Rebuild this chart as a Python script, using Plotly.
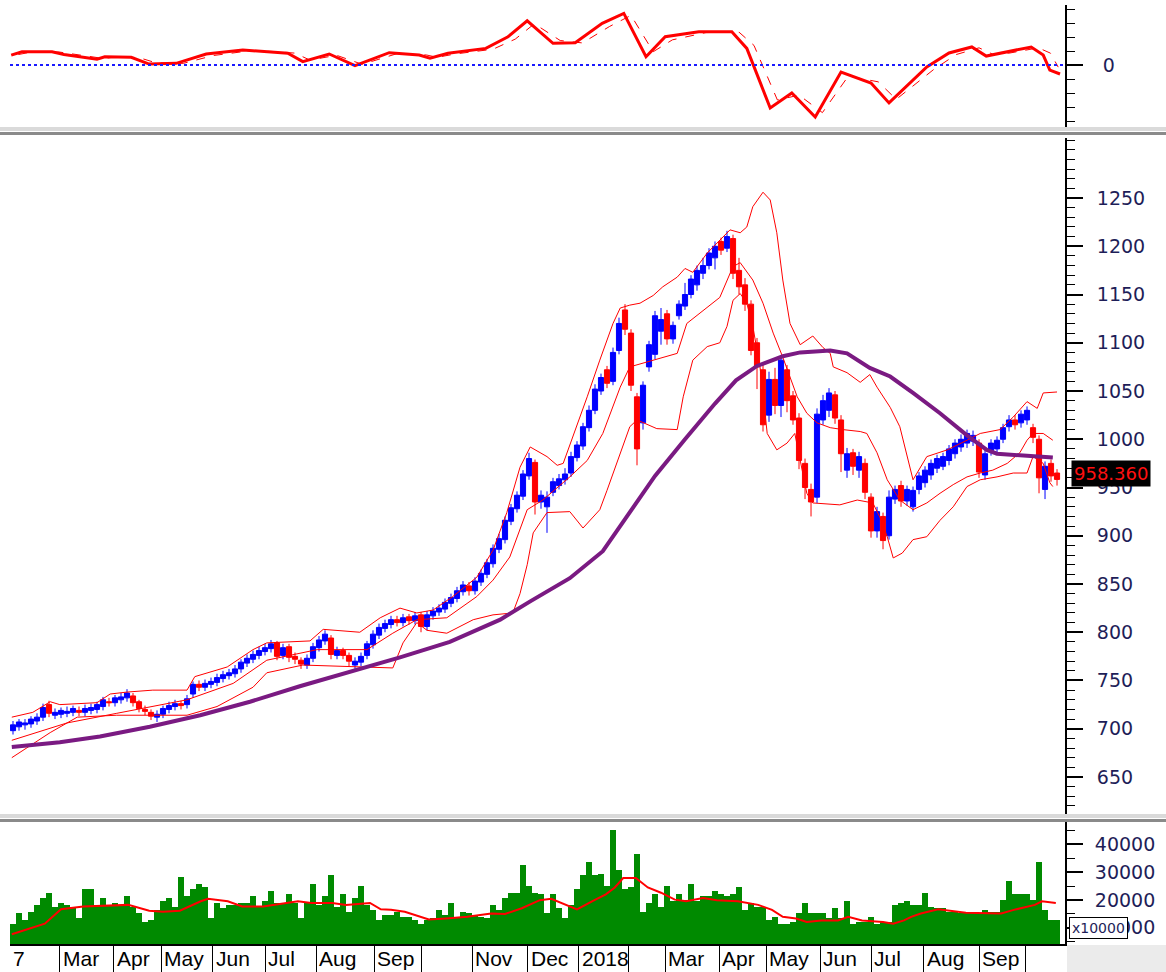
import plotly.graph_objects as go

# ---------------- data ----------------
bar_index = list(range(175))

opens = [698,702,704,705,708,712,725,714,715,716,
 717,719,717,719,720,723,728,727,730,732,
 734,728,720,717,712,715,720,723,726,725,
 736,746,743,746,748,752,755,757,762,768,
 772,776,780,783,789,776,785,775,771,766,
 773,784,791,794,776,781,776,766,769,776,
 787,797,804,808,813,810,816,812,818,806,
 817,821,824,830,835,842,848,843,852,860,
 871,886,896,915,928,941,962,976,935,930,
 945,952,958,965,981,993,1012,1030,1050,1072,
 1060,1092,1134,1110,1044,1017,1075,1088,1112,1130,
 1104,1128,1138,1150,1160,1172,1180,1188,1205,1198,
 1208,1175,1160,1140,1100,1072,1025,1062,1035,1072,
 1045,1022,975,948,940,1020,1030,1046,1020,968,
 986,968,975,940,905,920,900,938,952,936,
 930,948,955,963,970,972,978,985,992,996,
 998,996,963,988,990,1000,1013,1020,1017,1020,
 1012,1000,948,975,965]

closes = [704,707,706,710,712,722,716,717,719,718,
 721,717,721,722,725,730,727,732,733,737,
 727,721,718,713,715,721,724,726,724,731,
 746,743,747,749,753,756,758,762,769,773,
 777,781,784,788,775,784,774,772,767,773,
 785,792,798,777,781,776,770,770,775,788,
 798,805,809,813,810,815,812,817,806,818,
 822,825,831,836,843,849,843,853,861,872,
 887,897,916,929,942,964,980,935,942,940,
 956,959,964,982,994,1013,1030,1052,1064,1058,
 1090,1120,1114,1056,990,1056,1098,1128,1124,1104,
 1118,1140,1150,1166,1175,1180,1193,1200,1196,1210,
 1172,1158,1140,1092,1075,1015,1062,1035,1082,1040,
 1020,978,950,935,1026,1040,1048,1022,985,985,
 972,982,945,905,925,895,940,948,936,948,
 947,962,968,975,980,982,990,996,1000,1006,
 1004,966,985,996,999,1012,1020,1015,1026,1030,
 1002,960,972,962,958.36]

highs = [708,710,710,713,716,726,729,721,722,723,
 724,723,725,726,728,733,732,735,737,741,
 737,730,724,720,719,724,728,730,729,735,
 749,750,751,753,757,760,762,766,772,777,
 781,785,788,792,791,788,788,779,774,777,
 789,796,802,797,785,784,779,774,779,791,
 802,809,813,817,817,819,819,821,821,822,
 826,829,835,840,847,853,852,857,865,876,
 891,902,920,933,946,968,986,979,947,946,
 960,964,970,987,998,1017,1035,1057,1068,1076,
 1095,1126,1140,1114,1048,1060,1102,1133,1136,1134,
 1122,1144,1162,1170,1180,1188,1198,1205,1209,1216,
 1212,1188,1167,1144,1105,1077,1070,1074,1087,1077,
 1050,1027,980,954,1032,1046,1053,1050,1025,991,
 990,987,980,944,930,924,947,952,957,952,
 951,966,972,979,984,986,994,1000,1005,1010,
 1009,1000,989,1000,1003,1016,1025,1025,1030,1034,
 1016,1004,977,979,969]

lows = [694,698,699,701,704,708,712,710,711,712,
 713,713,713,715,716,719,723,723,726,728,
 723,717,714,709,707,711,716,719,720,721,
 732,739,739,742,744,748,751,753,758,764,
 768,772,776,779,771,772,769,767,762,762,
 769,780,787,772,772,772,765,762,765,772,
 783,793,800,804,806,806,808,808,800,802,
 813,817,820,826,831,838,838,839,848,856,
 867,882,892,911,924,937,958,922,928,903,
 941,948,953,961,977,989,1008,1026,1046,1053,
 1056,1088,1108,1050,973,1010,1070,1083,1098,1098,
 1099,1124,1134,1146,1154,1166,1176,1176,1191,1194,
 1166,1150,1133,1087,1052,1008,1018,1026,1023,1028,
 1015,969,938,920,934,1015,1023,1016,966,960,
 963,960,938,898,898,886,896,933,930,931,
 925,943,950,958,965,968,973,980,987,991,
 993,960,958,983,986,996,1008,1010,1012,1015,
 996,944,938,956,952]

volume = [11400,15100,12600,15700,18200,20700,22600,17600,18900,18200,
 17600,13300,23900,24000,18200,20700,18200,18900,18200,21400,
 17600,15100,12000,12600,16400,19500,20700,17600,28200,21400,
 23900,25700,24500,13300,18900,17000,18200,18200,18900,18900,
 21400,17600,19500,23200,18900,18900,22000,18900,13300,18900,
 25700,18200,21400,28900,17600,22000,15700,20700,25100,18200,
 16400,12600,14500,14500,15700,13900,13900,12600,11400,12600,
 13300,16400,14500,18900,13900,15700,15100,14500,13900,13300,
 18200,16400,20700,22600,22600,32600,25100,22600,
 22000,15100,22000,17000,13300,18200,23900,29000,33800,28900,
 29500,25100,45100,30700,23900,24500,36400,15700,18900,22000,
 17600,25100,19500,22000,20100,25700,19500,21400,21400,23200,
 22000,21400,22000,24500,16400,18900,17600,17600,12600,13900,
 11400,11400,12000,15100,18900,15100,15100,15100,13300,17000,
 13300,19500,11400,12000,12000,13900,11400,12000,12000,18200,
 18900,19500,18200,18200,22600,17600,17000,17000,15700,15700,
 15100,15100,15100,15100,16400,15700,15700,20100,27000,22000,
 22000,22000,20100,33800,16400,12600,12600]

# Bollinger bands (upper / middle / lower) and long moving average
ub_x = [-0.2,3.3,6.2,7.8,14,16.2,19,23.3,29,30.3,35.7,40,42.3,49.5,51.7,57.8,61.2,64.5,67.3,70,
        73.3,77.3,80,82.3,84.5,86.2,89,90.7,91.7,93.3,95.7,97.8,100,101.2,102.8,104.5,106.7,108.3,110.7,112,
        113.3,115.7,117.8,119.5,121.2,122.3,123.3,125,126.2,127.3,128.3,129.5,131.2,133.3,135,136.2,136.7,139,141.2,142.8,
        144,146.2,147.8,150,152.3,155.7,159,161.2,164.5,166.7,169,170.7,171.7,174]
ub = [712,717,728,725,727,736,738,740,740,754,764,782,789,791,803,800,815,825,820,823,
      837,857,885,924,971,992,982,973,975,1002,1044,1082,1120,1136,1139,1141,1149,1158,1168,1177,
      1173,1193,1206,1217,1214,1220,1241,1256,1248,1214,1165,1120,1098,1107,1095,1089,1075,1069,1059,1067,
      1054,1033,1013,958,982,989,999,1006,1010,1023,1039,1032,1048,1049]

mb_x = [-0.2,9,17.3,29,36.7,42.3,50.7,59,63.3,67.3,72.3,77.3,80,82.8,85.7,88.3,92.8,95.7,98.3,101.2,
        102.8,106.7,110.7,112.3,115.7,117.8,120,121.2,123.3,125,126.7,128.3,130.7,132.3,134,136.2,138.3,141.2,142.3,144,
        145.7,147.8,150,152.3,154.5,156.7,159,161.2,163.3,165.7,167.8,169,170,171.7,173.3]
mb = [688,706,716,730,747,771,782,782,799,813,815,837,854,878,927,937,961,978,1006,1054,
      1075,1082,1089,1120,1137,1147,1179,1183,1165,1141,1110,1085,1044,1027,1017,1012,1010,1008,1006,986,
      958,937,927,934,944,953,961,965,968,975,986,999,1006,1006,999]

lb_x = [-0.2,6.2,10.7,17.3,29,34,40,42.3,48.3,57.8,63.3,65,67.3,69,72.3,76.7,80,83.3,84.5,85.7,
        86.7,89,92.8,95,97.8,99,101.2,102.8,104,107.3,110.7,111.7,113.3,115.7,117.8,119,120,121.2,122.3,123.3,
        124.5,125.7,127.3,129,130.3,132.3,133.3,137.8,140.7,143.3,144.5,145.7,146.7,148.2,150,152.3,154.5,156.7,159,161.2,
        164,166.7,169,170,171.7,172.8,173.3]
lb = [670,696,712,714,714,723,743,758,766,764,763,789,810,802,799,813,818,820,840,870,
      903,924,925,908,927,947,986,1013,1020,1011,1010,1044,1082,1096,1100,1117,1144,1151,1141,1117,
      1075,1006,989,996,1006,944,934,932,937,934,919,899,877,882,896,899,916,930,951,958,
      961,965,965,982,975,955,951]

ma_x = [-0.2,7.8,14.5,22.8,31.2,39.5,47.8,56.2,64.5,72.8,81.2,86.2,92.8,98.3,101.7,107,112,117,120.5,124,
        128.3,131.2,136.2,139,142.8,146.2,150,154.5,159,162.3,164,166.7,173.3]
ma = [681,686,692,702,714,728,744,759,774,790,813,832,856,884,914,962,1000,1037,1061,1076,
      1086,1090,1092,1089,1074,1065,1048,1027,1004,989,985,984,981]

# oscillator (top panel) and its signal line
osc_x = [-0.3,1.5,6.5,8.5,14,15.3,19.7,22.7,27.2,32.2,38.3,42.7,45.8,48.3,52.7,57,62.7,67.7,69.5,72.5,
         78.8,82.5,85.7,90,93.7,98.2,101.8,105.5,108.7,114.3,119.8,122.3,126.2,129.8,133.7,138,143,146,152.3,156,
         159.8,162.2,164.7,169.7,171.7,172.8,174.5]
osc = [7.1,9.5,9.5,7.6,4.1,5.9,5.5,0.7,1.2,7.9,10.7,9.5,8.4,2.4,7.9,-0.5,8.8,7.1,4.8,8.4,
       11.9,20.2,31.6,15.5,15.9,29.8,36.9,5.9,20.2,23.8,23.8,11.9,-30.7,-20,-37.1,-5,-12.9,-27.1,-1.4,8.6,
       12.9,6.4,8.6,12.9,7.1,-3.6,-6.4]
sig_x = [0.9,2.7,7.7,9.7,15.2,16.5,20.9,23.9,28.4,33.4,39.5,43.9,47,49.5,53.9,58.2,63.9,68.9,70.7,73.7,
         80,83.7,86.9,91.2,94.9,99.4,103,106.7,109.9,115.5,121,123.5,127.4,131,134.9,139.2,144.2,147.2,153.5,157.2,
         161,163.4,165.9,170.9,172.9,174.2]
sig = [7.5,9.0,9.3,8.0,4.6,5.5,5.4,1.5,1.2,6.8,10.2,9.6,8.5,3.5,7.0,0.5,8.0,7.2,5.5,7.9,
       11.3,18.5,29.5,17.5,15.8,27.5,35.5,9.5,18.0,23.2,23.5,14.0,-25.0,-21.5,-34.0,-8.0,-12.0,-24.5,-3.0,7.5,
       12.3,7.5,8.4,12.3,8.5,-1.5]

# volume moving average
vma_x = [-0.2,5.3,8,11.7,19.2,22.7,25,27.8,31.3,32.5,35.8,38.2,41.7,45.2,47.5,49.7,53.2,55.5,59.5,61.3,
         63,65.3,67,69.3,72.2,75.7,79.7,82,84.8,87.8,89.7,91.3,94,96.5,98.8,100.3,101.7,103.8,105.8,108,
         110.3,112.2,115,117.3,120.8,124.2,126.5,128.3,130.5,132.3,134.7,137.5,139.2,141.5,145,146.7,148.5,149.7,151.3,154.2,
         158.8,164.7,166.8,170.3,171.5,173.8]
vma = [7600,11400,16600,17600,18200,16100,15700,16100,19500,20400,19500,17600,17600,18900,19500,18900,18900,18200,18900,16600,
       16400,15700,14500,12900,13300,13900,15100,14900,17000,19900,20400,18900,16600,19500,22000,24500,27900,27900,24500,22600,
       20100,19500,20700,19900,19500,18200,16400,13900,13300,12000,12600,12600,13900,12600,12000,11400,12600,13900,15100,16600,
       15400,15100,16400,18200,19500,18900]

# month boundaries (in bar units) and labels
month_pos = [7.8,16.8,24.7,33.3,42.0,50.5,60.2,68.0,76.5,85.8,94.3,102.5,108.7,117.7,125.5,134.5,143.0,151.8,161.0,168.7]
month_text = ["Mar","Apr","May","Jun","Jul","Aug","Sep","","Nov","Dec","2018","","Mar","Apr","May","Jun","Jul","Aug","Sep",""]
first_label = "7"

price_ticks = [650,700,750,800,850,900,950,1000,1050,1100,1150,1200,1250]
vol_ticks = [10000,20000,30000,40000]
vol_tick_text = ["10000","20000","30000","40000"]
last_price_text = "958.360"

# ---------------- layout helpers ----------------
W, H = 1166, 972
def fx(p):
    return p / W
def fy(p):
    return 1 - p / H

XDOM = [fx(10), fx(1065)]
XRANGE = [-0.5, 175.33]
AX_FONT = dict(family="DejaVu Sans", size=19, color="#1e1e58")

fig = go.Figure()

# oscillator panel
fig.add_trace(go.Scatter(x=sig_x, y=sig, mode="lines", xaxis="x", yaxis="y",
                         line=dict(color="#ff0000", width=1, dash="dash")))
fig.add_trace(go.Scatter(x=osc_x, y=osc, mode="lines", xaxis="x", yaxis="y",
                         line=dict(color="#ff0000", width=3)))

# main panel
for bx, by in ((ub_x, ub), (mb_x, mb), (lb_x, lb)):
    fig.add_trace(go.Scatter(x=bx, y=by, mode="lines", xaxis="x", yaxis="y2",
                             line=dict(color="#ff0000", width=1)))
fig.add_trace(go.Candlestick(x=bar_index, open=opens, high=highs, low=lows, close=closes,
                             xaxis="x", yaxis="y2", whiskerwidth=0,
                             increasing=dict(line=dict(color="#0000ff", width=1), fillcolor="#0000ff"),
                             decreasing=dict(line=dict(color="#ff0000", width=1), fillcolor="#ff0000")))
fig.add_trace(go.Scatter(x=ma_x, y=ma, mode="lines", xaxis="x", yaxis="y2",
                         line=dict(color="#7a1a82", width=4)))

# volume panel
fig.add_trace(go.Bar(x=bar_index, y=volume, xaxis="x", yaxis="y3", width=1.0,
                     marker=dict(color="#008a00", line=dict(width=0))))
fig.add_trace(go.Scatter(x=vma_x, y=vma, mode="lines", xaxis="x", yaxis="y3",
                         line=dict(color="#ff0000", width=2)))

def yax(standoff):
    return dict(side="right", anchor="x", showline=True, linecolor="black", linewidth=2,
                ticks="outside", tickcolor="black", tickwidth=2, ticklen=16,
                showgrid=False, zeroline=False, tickfont=AX_FONT, automargin=False,
                ticklabelstandoff=standoff, fixedrange=True)

fig.update_layout(
    width=W, height=H, template="none",
    margin=dict(l=0, r=0, t=0, b=0),
    paper_bgcolor="white", plot_bgcolor="white",
    showlegend=False, bargap=0, boxgap=0.05, boxgroupgap=0.1,
    xaxis=dict(domain=XDOM, range=XRANGE, anchor="y3", showline=True, linecolor="black", linewidth=2,
               ticks="outside", tickvals=month_pos, ticklen=30, tickcolor="black", tickwidth=1,
               showticklabels=False, showgrid=False, zeroline=False,
               rangeslider=dict(visible=False), automargin=False, fixedrange=True),
    yaxis=dict(domain=[fy(128), fy(5)], range=[-45, 42.9], tickvals=[0], ticktext=["0"],
               minor=dict(dtick=10, tick0=0, ticklen=8, ticks="outside", tickcolor="black", tickwidth=1),
               **yax(16)),
    yaxis2=dict(domain=[fy(815), fy(138)], range=[610.6, 1312.2], tickvals=price_ticks,
                minor=dict(dtick=10, tick0=0, ticklen=8, ticks="outside", tickcolor="black", tickwidth=1),
                **yax(10)),
    yaxis3=dict(domain=[fy(944), fy(822)], range=[4080, 48120], tickvals=vol_ticks, ticktext=vol_tick_text,
                minor=dict(dtick=5000, tick0=0, ticklen=8, ticks="outside", tickcolor="black", tickwidth=1),
                **yax(8)),
)

shapes = []
# zero line of the oscillator
shapes.append(dict(type="line", xref="paper", yref="y", x0=fx(10), x1=fx(1065), y0=0, y1=0,
                   line=dict(color="#1a1aff", width=2, dash="dot")))
# panel separators
for top in (127, 814):
    shapes.append(dict(type="rect", xref="paper", yref="paper", x0=0, x1=1, y0=fy(top + 4), y1=fy(top),
                       fillcolor="#dadada", line=dict(width=0), layer="above"))
    shapes.append(dict(type="rect", xref="paper", yref="paper", x0=0, x1=1, y0=fy(top + 8), y1=fy(top + 5),
                       fillcolor="#8a8a8a", line=dict(width=0), layer="above"))
# grey corner under the right axis
shapes.append(dict(type="rect", xref="paper", yref="paper", x0=fx(1067), x1=1, y0=0, y1=fy(945),
                   fillcolor="#ebebeb", line=dict(width=0), layer="below"))
fig.update_layout(shapes=shapes)

ann = []
lab_font = dict(family="Liberation Sans, Arial, sans-serif", size=21, color="black")
ann.append(dict(x=-0.4, y=fy(958), xref="x", yref="paper", text=first_label, showarrow=False,
                xanchor="left", yanchor="middle", font=lab_font))
for p, t in zip(month_pos, month_text):
    if t:
        ann.append(dict(x=p + 0.2, y=fy(958), xref="x", yref="paper", text=t, showarrow=False,
                        xanchor="left", yanchor="middle", font=lab_font))
# last price tag
ann.append(dict(x=fx(1071), y=closes[-1] + 6, xref="paper", yref="y2", text=last_price_text, showarrow=False,
                xanchor="left", yanchor="middle", bgcolor="black", borderpad=2,
                font=dict(family="DejaVu Sans", size=18, color="#ff1010")))
# volume multiplier box
ann.append(dict(x=fx(1069), y=10000, xref="paper", yref="y3", text="x10000", showarrow=False,
                xanchor="left", yanchor="middle", bgcolor="white", bordercolor="black", borderwidth=1,
                borderpad=2, font=dict(family="DejaVu Sans", size=14, color="#1e1e58")))
fig.update_layout(annotations=ann)

# remove the default page margin so the figure sits at the top-left corner of the window
fig.write_html("out.html", config={"displayModeBar": False},
               post_script="document.body.style.margin='0';document.body.style.overflow='hidden';")
